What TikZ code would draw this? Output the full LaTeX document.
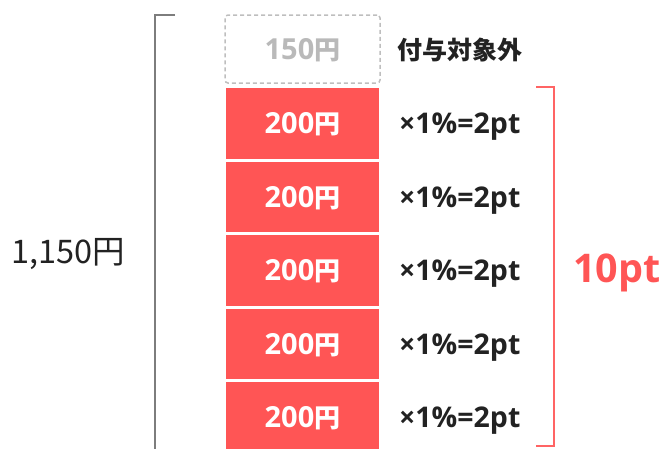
\documentclass[tikz,border=0pt]{standalone}
\usepackage{fontspec}
\setmainfont{Noto Sans CJK JP}
\newfontfamily\latin{Open Sans}
\definecolor{boxred}{RGB}{255,85,85}
\definecolor{brred}{RGB}{255,100,100}
\definecolor{brgray}{RGB}{125,125,125}
\definecolor{dashgray}{RGB}{190,190,190}
\definecolor{txtgray}{RGB}{185,185,185}
\definecolor{txtdark}{RGB}{34,34,34}
\newcommand{\yen}{{\fontsize{26}{26}\selectfont 円}}
\tikzset{
  redbox/.style={draw=white, line width=1.5pt, fill=boxred, minimum width=155pt, minimum height=72pt, inner sep=0pt,
    text=white, font=\bfseries\fontsize{29}{29}\selectfont, text height=20.5pt, text depth=0pt},
  dashbox/.style={draw=dashgray, line width=1.5pt, dash pattern=on 4pt off 3pt, rounded corners=3pt,
    minimum width=155pt, minimum height=68pt, inner sep=0pt,
    text=txtgray, font=\bfseries\fontsize{29}{29}\selectfont, text height=20.5pt, text depth=0pt},
  lbl/.style={anchor=west, inner sep=0pt, text=txtdark, font=\bfseries\fontsize{28.5}{28.5}\selectfont, text height=20pt, text depth=0pt},
  graybr/.style={draw=brgray, line width=2pt},
  redbr/.style={draw=brred, line width=2pt},
}
\begin{document}
\begin{tikzpicture}[x=1pt,y=-1pt]
\useasboundingbox (0,0) rectangle (665,448);
\begin{scope}
\clip (0,0) rectangle (665,448);
% gray bracket
\coordinate (ga) at (175,15);
\coordinate (gb) at (155,15);
\coordinate (gc) at (155,470);
\draw[graybr] (ga) -- (gb) -- (gc);
% boxes
\node[dashbox] (b0) at (302.5,49) {{\latin 150}\yen};
\node[redbox] (b1) at (302.5,123.5) {{\latin 200}\yen};
\node[redbox] (b2) at (302.5,197) {{\latin 200}\yen};
\node[redbox] (b3) at (302.5,270.5) {{\latin 200}\yen};
\node[redbox] (b4) at (302.5,344) {{\latin 200}\yen};
\node[redbox] (b5) at (302.5,417.5) {{\latin 200}\yen};
% labels
\node[lbl, font=\bfseries\fontsize{25}{25}\selectfont, text height=20pt] (l0) at (397,49.5) {付与対象外};
\node[lbl] (l1) at (399,123.5) {\latin ×1\%=2pt};
\node[lbl] (l2) at (399,197) {\latin ×1\%=2pt};
\node[lbl] (l3) at (399,270.5) {\latin ×1\%=2pt};
\node[lbl] (l4) at (399,344) {\latin ×1\%=2pt};
\node[lbl] (l5) at (399,417.5) {\latin ×1\%=2pt};
% red bracket
\coordinate (ra) at (536,87);
\coordinate (rb) at (554,87);
\coordinate (rc) at (554,446);
\coordinate (rd) at (536,446);
\draw[redbr] (ra) -- (rb) -- (rc) -- (rd);
% totals
\node[anchor=west, inner sep=0pt, text=boxred, font=\latin\bfseries\fontsize{39.5}{39.5}\selectfont, text height=28pt, text depth=0pt] (pt) at (573,268.5) {10pt};
\node[anchor=west, inner sep=0pt, text=txtdark, font=\fontsize{32.5}{32.5}\selectfont, text height=23.5pt, text depth=0pt] (tot) at (11,252) {1,150円};
\end{scope}
\end{tikzpicture}
\end{document}
